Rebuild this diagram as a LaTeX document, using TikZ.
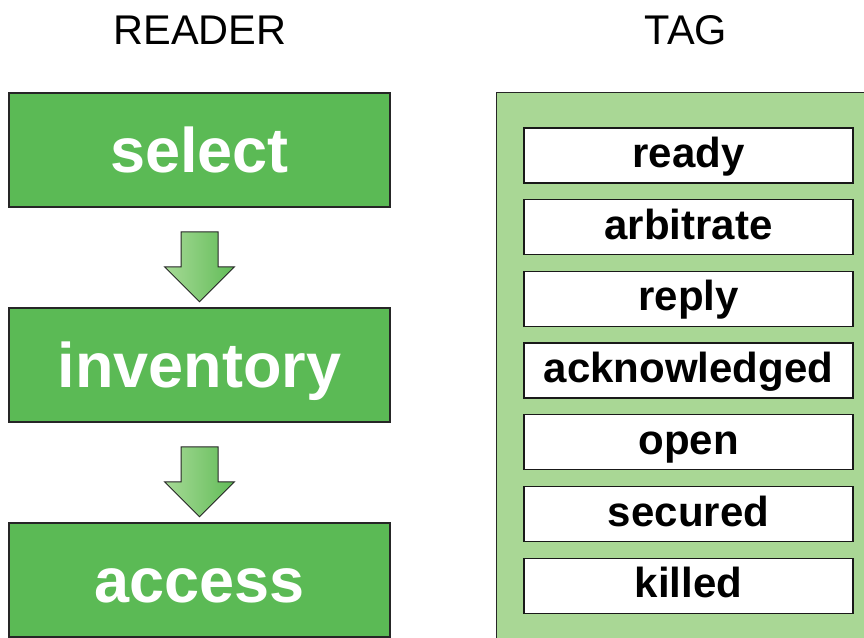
\documentclass[tikz,border=0pt]{standalone}
\usepackage{fontspec}
\setmainfont{Liberation Sans}
\usepackage{xcolor}
\usetikzlibrary{shapes.arrows, positioning, calc}

\definecolor{readergreen}{RGB}{91,186,85}
\definecolor{tagbggreen}{RGB}{169,215,149}
\definecolor{arrowlight}{RGB}{166,218,150}
\definecolor{arrowdark}{RGB}{98,188,88}

\begin{document}
\begin{tikzpicture}[
  x=1pt, y=1pt,
  cmdbox/.style={rectangle, draw=black!85, line width=1.3pt, fill=readergreen, text=white,
    minimum width=381pt, minimum height=114pt, inner sep=0pt, outer sep=0pt,
    text height=45pt, text depth=1pt,
    font=\fontsize{63}{70}\selectfont\bfseries},
  statebox/.style={rectangle, draw=black!90, line width=1.3pt, fill=white,
    minimum width=329pt, minimum height=55pt, inner sep=0pt, outer sep=0pt,
    text height=30pt, text depth=6pt,
    font=\fontsize{42}{48}\selectfont\bfseries},
  headlabel/.style={inner sep=0pt, font=\fontsize{41.5}{48}\selectfont},
  downarrow/.style={single arrow, rotate=-90, draw=black!85, line width=1pt,
    inner xsep=0pt, inner ysep=18pt, single arrow head extend=16.5pt,
    single arrow head indent=0pt, minimum height=70pt,
    left color=arrowlight, right color=arrowdark}
]
  \useasboundingbox (0,0) rectangle (864,-637);
  \clip (0,0) rectangle (864,-637);

  % reader side
  \node[headlabel] (readerlbl) at (200,-30) {READER};
  \node[cmdbox, anchor=north west] (select) at (9,-93) {select};
  \node[cmdbox, below=101pt of select] (inventory) {inventory};
  \node[cmdbox, below=101pt of inventory] (access) {access};
  \node[downarrow] (arr1) at ($(select.south)!.5!(inventory.north)$) {};
  \node[downarrow] (arr2) at ($(inventory.south)!.5!(access.north)$) {};

  % tag side
  \node[headlabel] (taglbl) at (686,-30) {TAG};
  \node[rectangle, draw=black!85, line width=1.3pt, fill=tagbggreen, anchor=north west,
    minimum width=400pt, minimum height=600pt] (tagarea) at (496,-92) {};
  \node[statebox, anchor=north west] (ready) at (524,-128) {ready};
  \node[statebox, below=16.7pt of ready] (arbitrate) {arbitrate};
  \node[statebox, below=16.7pt of arbitrate] (reply) {reply};
  \node[statebox, below=16.7pt of reply] (acked) {acknowledged};
  \node[statebox, below=16.7pt of acked] (open) {open};
  \node[statebox, below=16.7pt of open] (secured) {secured};
  \node[statebox, below=16.7pt of secured] (killed) {killed};
\end{tikzpicture}
\end{document}
